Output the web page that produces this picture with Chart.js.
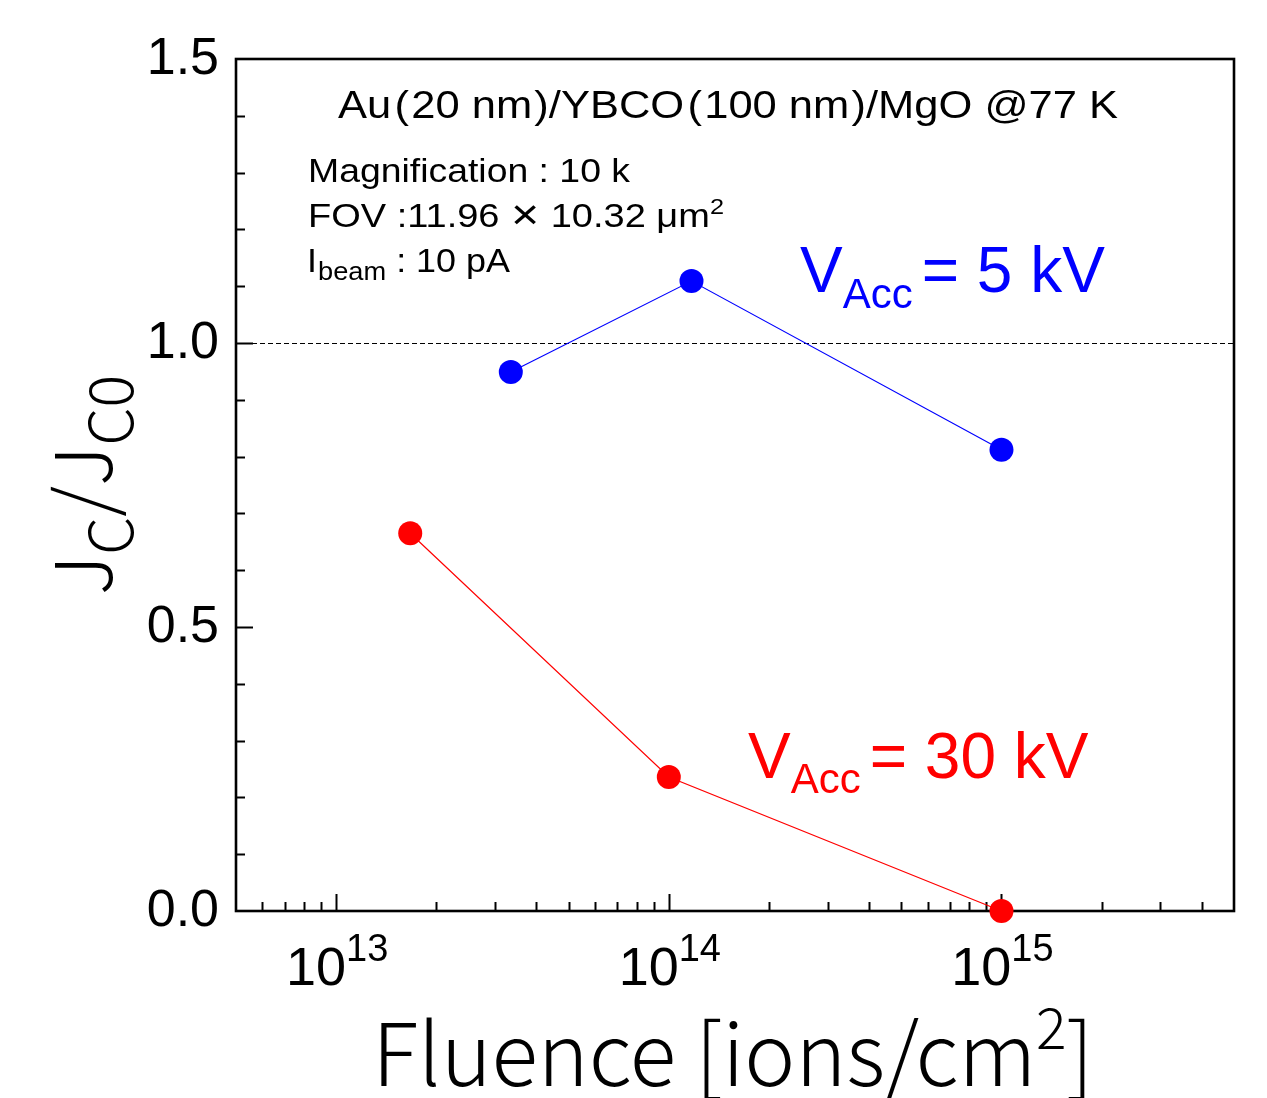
<!DOCTYPE html>
<html><head><meta charset="utf-8">
<script src="https://cdn.jsdelivr.net/npm/chart.js@4.4.1/dist/chart.umd.min.js"></script>
<style>html,body{margin:0;padding:0;background:#fff;overflow:hidden}#wrap{width:1267px;height:1098px;position:relative}</style>
</head><body><div id="wrap"><canvas id="c"></canvas></div>
<script>
// ---- data ----
const fluence5kV = [3.35e13, 1.17e14, 1.0e15];
const jc5kV = [0.949, 1.109, 0.812];
const fluence30kV = [1.67e13, 1.0e14, 1.0e15];
const jc30kV = [0.665, 0.236, 0.0];
const xMajorTicks = [1e13, 1e14, 1e15];
const xTickExponents = ['13', '14', '15'];
const yMajorTicks = [0, 0.5, 1.0, 1.5];
const yTickLabels = ['0.0', '0.5', '1.0', '1.5'];
const referenceLevel = 1.0;
const xMin = 5e12, xMax = 5e15, yMin = 0, yMax = 1.5;

const ARIAL = '"Liberation Sans", Arial, "Noto Sans CJK JP", sans-serif';
const CJK = '"Noto Sans CJK JP", "Noto Sans", sans-serif';

// parts: [text, font, dy, padAfter]
function measure(ctx, parts) {
  let w = 0;
  for (const p of parts) { ctx.font = p[1]; w += ctx.measureText(p[0]).width + (p[3] || 0); }
  return w;
}
function rich(ctx, parts, x, y, align, color) {
  const total = measure(ctx, parts);
  let cx = align === 'center' ? x - total / 2 : align === 'right' ? x - total : x;
  ctx.fillStyle = color; ctx.textBaseline = 'alphabetic'; ctx.textAlign = 'left';
  for (const p of parts) {
    ctx.font = p[1];
    ctx.fillText(p[0], cx, y + (p[2] || 0));
    cx += ctx.measureText(p[0]).width + (p[3] || 0);
  }
  return total;
}
// draw parts from x0, stretched horizontally so the run ends at x1
function fitLine(ctx, parts, x0, x1, y, color) {
  const w = measure(ctx, parts);
  const sx = (x1 - x0) / w;
  ctx.save();
  ctx.translate(x0, y); ctx.scale(sx, 1);
  rich(ctx, parts, 0, 0, 'left', color);
  ctx.restore();
}

const framePlugin = {
  id: 'frame',
  beforeDatasetsDraw(chart) {
    const ctx = chart.ctx, a = chart.chartArea;
    const xs = chart.scales.x, ys = chart.scales.y;
    ctx.save();
    const yr = ys.getPixelForValue(referenceLevel);
    ctx.strokeStyle = '#000'; ctx.lineWidth = 1; ctx.setLineDash([5, 3]);
    ctx.beginPath(); ctx.moveTo(a.left, yr + 0.5); ctx.lineTo(a.right, yr + 0.5); ctx.stroke();
    ctx.setLineDash([]);
    ctx.lineWidth = 2.6; ctx.strokeStyle = '#000';
    ctx.strokeRect(a.left, a.top, a.right - a.left, a.bottom - a.top);
    ctx.lineWidth = 2;
    for (let d = 12; d <= 15; d++) {
      for (let m = 1; m <= 9; m++) {
        const v = m * Math.pow(10, d);
        if (v <= xMin * 1.0001 || v >= xMax * 0.9999) continue;
        const px = Math.round(xs.getPixelForValue(v)) + 0.5;
        const len = m === 1 ? 17 : 9;
        ctx.beginPath(); ctx.moveTo(px, a.bottom); ctx.lineTo(px, a.bottom - len); ctx.stroke();
      }
    }
    for (let i = 1; i < 15; i++) {
      const v = i / 10;
      const py = Math.round(ys.getPixelForValue(v)) + 0.5;
      const len = (i % 5 === 0) ? 17 : 9;
      ctx.beginPath(); ctx.moveTo(a.left, py); ctx.lineTo(a.left + len, py); ctx.stroke();
    }
    ctx.restore();
  },
  afterDraw(chart) {
    const ctx = chart.ctx;
    const xs = chart.scales.x, ys = chart.scales.y;
    ctx.save();
    ctx.font = '52px ' + ARIAL; ctx.fillStyle = '#000';
    ctx.textAlign = 'right'; ctx.textBaseline = 'middle';
    yMajorTicks.forEach((v, i) => ctx.fillText(yTickLabels[i], 219, ys.getPixelForValue(v) + 1));
    xMajorTicks.forEach((v, i) => {
      rich(ctx, [['10', '54px ' + ARIAL, 0], [xTickExponents[i], '38px ' + ARIAL, -24]],
        xs.getPixelForValue(v) + 1, 985, 'center', '#000');
    });
    // x title
    const XF = '300 86px ' + CJK, XS = '300 57px ' + CJK;
    rich(ctx, [['Fluence [ions/cm', XF, 0], ['2', XS, -37], [']', XF, 0]], 733, 1086, 'center', '#000');
    // y title (rotated)
    ctx.save();
    ctx.translate(112, 485); ctx.rotate(-Math.PI / 2);
    const YF = '300 78px ' + CJK, YS = '300 61px ' + CJK;
    rich(ctx, [['J', YF, 0], ['C', YS, 21], ['/', YF, 0], ['J', YF, 0], ['C0', YS, 21]], 0, 0, 'center', '#000');
    ctx.restore();
    // annotations
    const TF = '39px ' + ARIAL;
    fitLine(ctx, [['Au', TF, 0, 3], ['(', TF, 0, 2], ['20 nm', TF, 0, 2], [')', TF, 0, 0], ['/YBCO', TF, 0, 3],
      ['(', TF, 0, 2], ['100 nm', TF, 0, 2], [')', TF, 0, 0], ['/MgO @77 K', TF, 0, 0]], 338, 1118, 118, '#000');
    const AF = '33px ' + ARIAL;
    fitLine(ctx, [['Magnification : 10 k', AF, 0, 0]], 308, 630, 182, '#000');
    fitLine(ctx, [['FOV :11.96', AF, 0, 10], ['×', '42px ' + ARIAL, 2, 10], ['10.32 μm', AF, 0, 0], ['2', '22px ' + ARIAL, -13]],
      308, 724, 227, '#000');
    fitLine(ctx, [['I', AF, 0, 1], ['beam', '25px ' + ARIAL, 8], [' : 10 pA', AF, 0]], 307, 510, 272, '#000');
    const VF = '64px ' + ARIAL, VS = '42px ' + ARIAL;
    rich(ctx, [['V', VF, 0], ['Acc', VS, 16, 9], ['= 5 kV', VF, 0]], 800, 292, 'left', '#0000ff');
    rich(ctx, [['V', VF, 0], ['Acc', VS, 15, 9], ['= 30 kV', VF, 0]], 748, 778, 'left', '#ff0000');
    ctx.restore();
  }
};

const toPts = (xs, ys) => xs.map((x, i) => ({ x, y: ys[i] }));

new Chart(document.getElementById('c'), {
  type: 'scatter',
  data: {
    datasets: [
      { label: 'VAcc = 5 kV', data: toPts(fluence5kV, jc5kV), showLine: true,
        borderColor: '#0000ff', backgroundColor: '#0000ff', borderWidth: 1.2,
        pointRadius: 12, pointBorderWidth: 0, clip: false },
      { label: 'VAcc = 30 kV', data: toPts(fluence30kV, jc30kV), showLine: true,
        borderColor: '#ff0000', backgroundColor: '#ff0000', borderWidth: 1.2,
        pointRadius: 12, pointBorderWidth: 0, clip: false }
    ]
  },
  options: {
    responsive: true, maintainAspectRatio: false, animation: false,
    devicePixelRatio: 1,
    layout: { padding: { left: 236, right: 33, top: 59, bottom: 187 } },
    plugins: { legend: { display: false }, tooltip: { enabled: false } },
    scales: {
      x: { type: 'logarithmic', min: xMin, max: xMax,
        ticks: { display: false }, grid: { display: false, drawTicks: false }, border: { display: false } },
      y: { type: 'linear', min: yMin, max: yMax,
        ticks: { display: false }, grid: { display: false, drawTicks: false }, border: { display: false } }
    }
  },
  plugins: [framePlugin]
});
</script></body></html>
